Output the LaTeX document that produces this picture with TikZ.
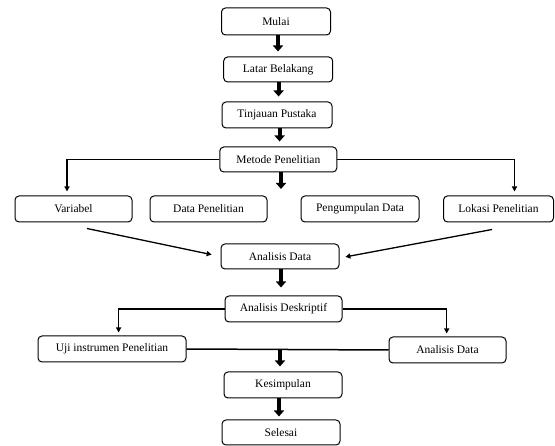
\documentclass[tikz,border=0pt]{standalone}
\usepackage{fontspec}
\setmainfont{Liberation Serif}
\usetikzlibrary{arrows.meta,calc}
\begin{document}
\begin{tikzpicture}[x=1pt,y=-1pt,
  box/.style={draw=black,line width=1pt,rounded corners=4pt,fill=white,
    minimum width=#1,minimum height=26pt,inner sep=0pt,
    font=\fontsize{11.5}{13}\selectfont},
  box/.default=117pt,
  bigarrow/.style={line width=4pt,-{Triangle[width=10pt,length=6pt]}},
  conn/.style={line width=1.3pt,-{Triangle[width=5pt,length=5pt]}},
  plain/.style={line width=1.5pt}]
\useasboundingbox[fill=white] (0,0) rectangle (555,446);
\node[box=109pt,minimum height=27pt] (mulai) at (276,21.5) {Mulai};
\node[box=109pt,minimum height=25pt] (latar) at (278.2,69.5) {Latar Belakang};
\node[box=110pt] (tinjauan) at (277,115) {Tinjauan Pustaka};
\node[box=117pt,minimum height=25pt] (metode) at (278.3,159.5) {Metode Penelitian};
\node[box=117pt] (variabel) at (73.5,209) {Variabel};
\node[box=117pt] (datapen) at (208.5,209) {Data Penelitian};
\node[box=118pt] (pengumpulan) at (360,209) {Pengumpulan Data};
\node[box=110pt] (lokasi) at (498.5,209) {Lokasi Penelitian};
\node[box=118pt,minimum height=25pt] (analisis) at (280,256.5) {Analisis Data};
\node[box=117pt] (deskriptif) at (283.5,309) {Analisis Deskriptif};
\node[box=148pt] (uji) at (112,349) {Uji instrumen Penelitian};
\node[box=117pt] (analisis2) at (447.5,350) {Analisis Data};
\node[box=118pt] (kesimpulan) at (283,385) {Kesimpulan};
\node[box=118pt,minimum height=25pt] (selesai) at (281,432.5) {Selesai};
\coordinate (metodeend) at (281,189);
\coordinate (mid) at (280,349);
% thick arrows
\draw[bigarrow,shorten >=5pt] ([xshift=2pt]mulai.south) -- ([xshift=2pt]mulai.south |- latar.north);
\draw[bigarrow,shorten >=5pt] ([xshift=0.4pt]latar.south) -- ([xshift=0.4pt]latar.south |- tinjauan.north);
\draw[bigarrow,shorten >=5pt] ([xshift=2.6pt]tinjauan.south) -- ([xshift=2.6pt]tinjauan.south |- metode.north);
\draw[bigarrow] ([xshift=2.7pt]metode.south) -- (metodeend);
\draw[bigarrow,shorten >=8pt] ([xshift=1pt]analisis.south) -- ([xshift=1pt]analisis.south |- deskriptif.north);
\draw[plain] (uji.east) -- (analisis2.west);
\draw[bigarrow,shorten >=5pt] (mid) -- (mid |- kesimpulan.north);
\draw[bigarrow,shorten >=3pt] ([xshift=-4pt]kesimpulan.south) -- ([xshift=-4pt]kesimpulan.south |- selesai.north);
% branch connectors
\draw[conn,shorten >=4pt] (metode.west) -| ([xshift=-6.5pt]variabel.north);
\draw[conn,shorten >=4pt] (metode.east) -| ([xshift=16pt]lokasi.north);
\draw[conn,shorten >=3pt] (deskriptif.west) -| ([xshift=6.6pt]uji.north);
\draw[conn,shorten >=3pt] (deskriptif.east) -| ([xshift=-0.8pt]analisis2.north);
\draw[conn,shorten >=9pt] ([xshift=13.5pt,yshift=-6pt]variabel.south) -- (analisis.west);
\draw[conn,shorten >=6pt] ([xshift=-6.5pt,yshift=-7pt]lokasi.south) -- ([yshift=-1.5pt]analisis.east);
\end{tikzpicture}
\end{document}
